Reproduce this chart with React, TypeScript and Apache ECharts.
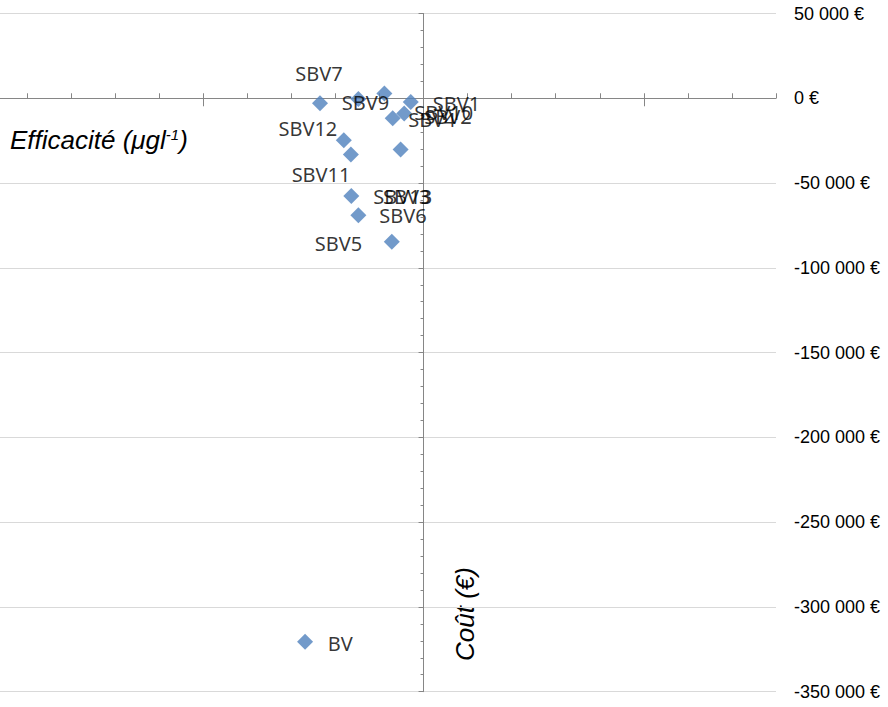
import React, { useEffect, useRef } from "react";
import * as echarts from "echarts";

// Points (efficacité, coût)
const pointNames = ["SBV7", "SBV9", "SBV10", "SBV1", "SBV4", "SBV2", "SBV12", "SBV11", "SBV3", "SBV13", "SBV6", "SBV5", "BV"];
const efficacite = [-0.235, -0.148, -0.089, -0.029, -0.07, -0.044, -0.181, -0.165, -0.052, -0.164, -0.148, -0.072, -0.269];
const cout = [-3000, -500, 2800, -2200, -11800, -9000, -24800, -33100, -30200, -57600, -69000, -84600, -320500];

// Axis ranges
const xRange = [-1, 0.8];
const yRange = [-350000, 50000];
const yStep = 50000;
const xMajorTicks = [-0.5, 0.5];

// Label placement (style)
const labelPlacement: Record<string, { align: string; offset: [number, number] }> = {
  SBV7: { align: "center", offset: [-1, -30] },
  SBV9: { align: "center", offset: [7, 3] },
  SBV10: { align: "left", offset: [30, 19] },
  SBV1: { align: "left", offset: [22, 1.5] },
  SBV4: { align: "left", offset: [15.5, 1] },
  SBV2: { align: "left", offset: [20, 2.5] },
  SBV12: { align: "right", offset: [-6.5, -12] },
  SBV11: { align: "center", offset: [-29.8, 20.5] },
  SBV3: { align: "left", offset: [-17.7, 47.5] },
  SBV13: { align: "left", offset: [22, 1] },
  SBV6: { align: "left", offset: [21, 0.5] },
  SBV5: { align: "right", offset: [-29.7, 1.5] },
  BV: { align: "left", offset: [22.7, 1.6] },
};

const fmtEuro = (v: number) => {
  const s = Math.abs(v)
    .toString()
    .replace(/\B(?=(\d{3})+(?!\d))/g, " ");
  return (v < 0 ? "-" : "") + s + " €";
};

const AXIS_COLOR = "#868686";

export default function App() {
  const ref = useRef<HTMLDivElement>(null);
  useEffect(() => {
    if (!ref.current) return;
    const chart = echarts.init(ref.current, undefined, { renderer: "svg" });
    const data = pointNames.map((n, i) => {
      const p = labelPlacement[n];
      return {
        name: n,
        value: [efficacite[i], cout[i]],
        label: {
          show: true,
          position: "inside",
          align: p.align,
          verticalAlign: "middle",
          offset: p.offset,
          formatter: "{b}",
        },
      };
    });
    chart.setOption({
      animation: false,
      backgroundColor: "#ffffff",
      grid: {
        left: -17,
        right: 112,
        top: 13.5,
        bottom: 15.3,
        containLabel: false,
        outerBoundsMode: "none",
      },
      xAxis: [
        {
          type: "value",
          min: xRange[0],
          max: xRange[1],
          interval: 0.1,
          axisLine: { show: true, onZero: true, onZeroAxisIndex: 0, lineStyle: { color: AXIS_COLOR, width: 1 } },
          axisTick: { show: true, inside: true, length: 5, lineStyle: { color: AXIS_COLOR } },
          axisLabel: { show: false },
          splitLine: { show: false },
        },
        {
          type: "value",
          position: "top",
          min: xRange[0],
          max: xRange[1],
          interval: 0.5,
          axisLine: { show: false, onZero: true, onZeroAxisIndex: 0 },
          axisTick: { show: true, inside: true, length: 8, customValues: xMajorTicks, lineStyle: { color: AXIS_COLOR } },
          axisLabel: { show: false },
          splitLine: { show: false },
        },
      ],
      yAxis: [
        {
          type: "value",
          position: "left",
          min: yRange[0],
          max: yRange[1],
          interval: yStep,
          axisLine: { show: true, onZero: true, lineStyle: { color: AXIS_COLOR, width: 1 } },
          axisTick: { show: true, length: 5, lineStyle: { color: AXIS_COLOR } },
          minorTick: { show: true, splitNumber: 5, length: 3, lineStyle: { color: AXIS_COLOR } },
          axisLabel: { show: false },
          splitLine: { show: true, lineStyle: { color: "#d9d9d9", width: 1 } },
        },
        {
          type: "value",
          position: "right",
          min: yRange[0],
          max: yRange[1],
          interval: yStep,
          axisLine: { show: false, onZero: false },
          axisTick: { show: false },
          axisLabel: {
            show: true,
            margin: 18,
            formatter: fmtEuro,
            color: "#000000",
            fontFamily: "Liberation Sans",
            fontSize: 18,
          },
          splitLine: { show: false },
        },
      ],
      series: [
        {
          type: "scatter",
          xAxisIndex: 0,
          yAxisIndex: 0,
          symbol: "diamond",
          symbolSize: 16,
          itemStyle: { color: "#4F81BD" },
          label: {
            show: true,
            color: "#000000",
            fontFamily: "Noto Sans",
            fontSize: 20,
          },
          emphasis: { disabled: true },
          data,
        },
      ],
      graphic: [
        {
          type: "text",
          x: 10,
          y: 140,
          style: {
            text: "{a|Efficacité (μgl}{s|-1}{a|)}",
            verticalAlign: "middle",
            align: "left",
            rich: {
              a: { fontFamily: "Liberation Sans", fontStyle: "italic", fontSize: 26, fill: "#000", color: "#000" },
              s: { fontFamily: "Liberation Sans", fontStyle: "italic", fontSize: 15, fill: "#000", color: "#000", verticalAlign: "top", padding: [0, 0, 10, 0] },
            },
          },
        },
        {
          type: "text",
          x: 465,
          y: 614,
          rotation: Math.PI / 2,
          style: {
            text: "Coût (€)",
            fontFamily: "Liberation Sans",
            fontStyle: "italic",
            fontSize: 26,
            fill: "#000",
            align: "center",
            verticalAlign: "middle",
          },
        },
      ],
    });
    return () => chart.dispose();
  }, []);
  return (
    <div
      ref={ref}
      style={{ position: "absolute", left: 0, top: 0, width: 888, height: 707 }}
    />
  );
}
